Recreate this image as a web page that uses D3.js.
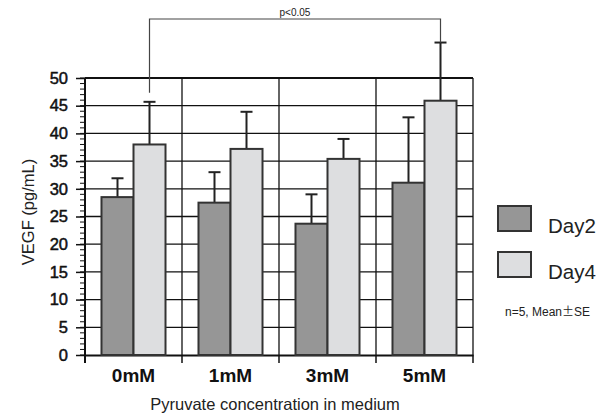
<!DOCTYPE html>
<html>
<head>
<meta charset="utf-8">
<script src="https://cdnjs.cloudflare.com/ajax/libs/d3/7.8.5/d3.min.js"></script>
<style>
  body { margin: 0; background: #fff; }
  svg { display: block; font-family: "Liberation Sans", Arial, sans-serif; }
</style>
</head>
<body>
<script>
var categories = ["0mM", "1mM", "3mM", "5mM"];
var series = ["Day2", "Day4"];
var day2Mean = [28.5, 27.5, 23.7, 31.1];
var day2Err = [3.4, 5.5, 5.3, 11.8];
var day4Mean = [38.0, 37.2, 35.4, 45.9];
var day4Err = [7.7, 6.7, 3.6, 10.5];
var yTicks = [0, 5, 10, 15, 20, 25, 30, 35, 40, 45, 50];
var colors = ["#969696", "#dddee0"];

var svg = d3.select("body").append("svg")
    .attr("width", 606)
    .attr("height", 415);

var margin = {top: 78, left: 85},
    width = 388,
    height = 277;

var g = svg.append("g").attr("transform", "translate(" + margin.left + "," + margin.top + ")");

var x = d3.scaleBand().domain(categories).range([0, width]);
var xs = d3.scaleBand().domain(series).range([x.bandwidth() * 0.17, x.bandwidth() * 0.83]);
var y = d3.scaleLinear().domain([0, 50]).range([height, 0]);

// horizontal grid
g.selectAll(".hgrid").data(yTicks.slice(1)).enter().append("line")
    .attr("x1", 0).attr("x2", width)
    .attr("y1", function(d) { return y(d); }).attr("y2", function(d) { return y(d); })
    .attr("stroke", "#111")
    .attr("stroke-width", function(d) { return d == 50 ? 2 : 1.3; });

// vertical grid
g.selectAll(".vgrid").data(categories.slice(1)).enter().append("line")
    .attr("x1", function(d) { return x(d); }).attr("x2", function(d) { return x(d); })
    .attr("y1", 0).attr("y2", height)
    .attr("stroke", "#111").attr("stroke-width", 1.3);
g.append("line").attr("x1", width).attr("x2", width).attr("y1", 0).attr("y2", height)
    .attr("stroke", "#111").attr("stroke-width", 1.3);

// minor ticks on y axis
g.selectAll(".minor").data(d3.range(0, 51)).enter().append("line")
    .attr("x1", -5).attr("x2", 0)
    .attr("y1", function(d) { return y(d); }).attr("y2", function(d) { return y(d); })
    .attr("stroke", "#111").attr("stroke-width", 1);

// y axis
var yAxis = g.append("g")
    .call(d3.axisLeft(y).tickValues(yTicks).tickSize(9).tickPadding(8));
yAxis.select(".domain").attr("stroke", "#111").attr("stroke-width", 2).attr("d", "M0," + (height + 8) + "V0");
yAxis.selectAll(".tick line").attr("stroke", "#111").attr("stroke-width", 1.5);
yAxis.selectAll("text")
    .attr("font-family", "Liberation Sans, Arial, sans-serif")
    .attr("font-size", 16.5).attr("fill", "#111")
    .attr("stroke", "#111").attr("stroke-width", 0.5);

// x axis
var xAxis = g.append("g")
    .attr("transform", "translate(0," + height + ")")
    .call(d3.axisBottom(x).tickSize(0).tickPadding(14));
xAxis.select(".domain").attr("stroke", "#111").attr("stroke-width", 2);
xAxis.selectAll("text")
    .attr("font-family", "Liberation Sans, Arial, sans-serif")
    .attr("font-size", 19).attr("font-weight", "bold").attr("fill", "#111");
g.selectAll(".xtick").data(categories.concat(["end"])).enter().append("line")
    .attr("x1", function(d, i) { return i * x.step(); })
    .attr("x2", function(d, i) { return i * x.step(); })
    .attr("y1", height).attr("y2", height + 8)
    .attr("stroke", "#111").attr("stroke-width", 1.5);

// bars
var rows = categories.map(function(c, i) {
  return {cat: c, vals: [
    {s: "Day2", v: day2Mean[i], e: day2Err[i], c: colors[0]},
    {s: "Day4", v: day4Mean[i], e: day4Err[i], c: colors[1]}
  ]};
});

var grp = g.selectAll(".grp").data(rows).enter().append("g")
    .attr("transform", function(d) { return "translate(" + x(d.cat) + ",0)"; });

var bar = grp.selectAll(".bar").data(function(d) { return d.vals; }).enter().append("g");

bar.append("line")
    .attr("x1", function(d) { return xs(d.s) + xs.bandwidth() / 2; })
    .attr("x2", function(d) { return xs(d.s) + xs.bandwidth() / 2; })
    .attr("y1", function(d) { return y(d.v); })
    .attr("y2", function(d) { return y(d.v + d.e); })
    .attr("stroke", "#222").attr("stroke-width", 2);
bar.append("line")
    .attr("x1", function(d) { return xs(d.s) + xs.bandwidth() / 2 - 6; })
    .attr("x2", function(d) { return xs(d.s) + xs.bandwidth() / 2 + 6; })
    .attr("y1", function(d) { return y(d.v + d.e); })
    .attr("y2", function(d) { return y(d.v + d.e); })
    .attr("stroke", "#222").attr("stroke-width", 2);
bar.append("rect")
    .attr("x", function(d) { return xs(d.s); })
    .attr("y", function(d) { return y(d.v); })
    .attr("width", xs.bandwidth())
    .attr("height", function(d) { return height - y(d.v); })
    .attr("fill", function(d) { return d.c; })
    .attr("stroke", "#333").attr("stroke-width", 2);

// significance bracket 0mM Day4 vs 5mM Day4
var bx1 = x("0mM") + xs("Day4") + xs.bandwidth() / 2,
    bx2 = x("5mM") + xs("Day4") + xs.bandwidth() / 2,
    by = -59;
g.append("path")
    .attr("d", "M" + bx1 + "," + (y(day4Mean[0] + day4Err[0]) - 9) + "V" + by + "H" + bx2 + "V" + y(day4Mean[3] + day4Err[3]))
    .attr("fill", "none").attr("stroke", "#444").attr("stroke-width", 1.2);
g.append("text")
    .attr("x", (bx1 + bx2) / 2).attr("y", by - 3)
    .attr("text-anchor", "middle")
    .attr("font-size", 10).attr("fill", "#222")
    .text("p<0.05");

// axis titles
svg.append("text")
    .attr("transform", "translate(34," + 212 + ") rotate(-90)")
    .attr("text-anchor", "middle")
    .attr("font-size", 16.5).attr("fill", "#222")
    .text("VEGF (pg/mL)");
svg.append("text")
    .attr("x", 275).attr("y", 410)
    .attr("text-anchor", "middle")
    .attr("font-size", 16.5).attr("fill", "#222")
    .text("Pyruvate concentration in medium");

// legend
var legend = svg.selectAll(".legend").data(series).enter().append("g")
    .attr("transform", function(d, i) { return "translate(498," + (206 + i * 46) + ")"; });
legend.append("rect")
    .attr("width", 33).attr("height", 25)
    .attr("fill", function(d, i) { return colors[i]; })
    .attr("stroke", "#333").attr("stroke-width", 2);
legend.append("text")
    .attr("x", 50).attr("y", 27)
    .attr("font-size", 20.5).attr("fill", "#222")
    .text(function(d) { return d; });
svg.append("text")
    .attr("x", 505).attr("y", 316)
    .attr("font-size", 12).attr("fill", "#222")
    .text("n=5, Mean")
  .append("tspan")
    .attr("font-family", "Noto Sans CJK JP")
    .text("\u00b1")
  .select(function() { return this.parentNode; })
  .append("tspan")
    .text("SE");
</script>
</body>
</html>
